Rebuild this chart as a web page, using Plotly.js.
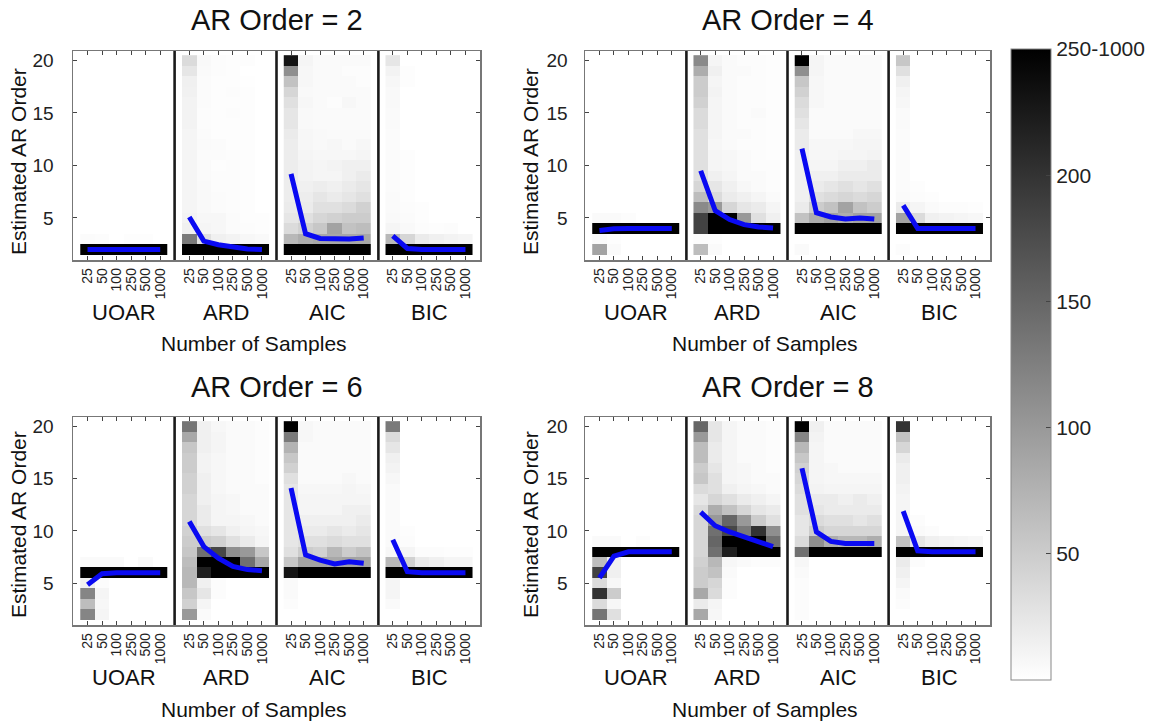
<!DOCTYPE html>
<html>
<head>
<meta charset="utf-8">
<script src="https://cdn.plot.ly/plotly-3.0.1.min.js"></script>
<style>html,body{margin:0;padding:0;background:#fff}#chart{width:1163px;height:724px}</style>
</head>
<body>
<div id="chart"></div>
<script>
// ---------------- DATA ----------------
const sampleSizes = ['25','50','100','250','500','1000'];
const methods = ['UOAR','ARD','AIC','BIC'];
const orders = [1,2,3,4,5,6,7,8,9,10,11,12,13,14,15,16,17,18,19,20];
const panelTitles = ['AR Order = 2','AR Order = 4','AR Order = 6','AR Order = 8'];
const cbTickVals = [50,100,150,200,250];
const cbTickText = ['50','100','150','200','250-1000'];

// counts per estimated order (rows: order 1..20), columns: sample sizes
const ar2_UOAR = [
[0,0,0,0,0,0],[1000,1000,1000,1000,1000,1000],[4,3,0,2,2,0],[0,0,0,0,0,0],[0,0,0,0,0,0],
[0,0,0,0,0,0],[0,0,0,0,0,0],[0,0,0,0,0,0],[0,0,0,0,0,0],[0,0,0,0,0,0],
[0,0,0,0,0,0],[0,0,0,0,0,0],[0,0,0,0,0,0],[0,0,0,0,0,0],[0,0,0,0,0,0],
[0,0,0,0,0,0],[0,0,0,0,0,0],[0,0,0,0,0,0],[0,0,0,0,0,0],[0,0,0,0,0,0]];
const ar2_ARD = [
[0,0,0,0,0,0],[700,900,950,970,980,990],[130,30,15,12,8,6],[15,10,8,4,3,2],[12,8,8,4,2,2],
[10,6,4,3,2,0],[10,6,4,3,2,0],[10,6,3,3,2,0],[10,5,3,3,2,0],[10,5,2,3,2,0],
[10,4,4,3,2,0],[10,5,4,2,2,0],[10,4,2,2,2,0],[12,3,2,2,2,0],[12,3,2,3,2,0],
[12,4,2,2,2,0],[14,4,2,3,2,0],[15,4,2,2,1,0],[25,5,3,2,0,0],[35,6,3,2,2,0]];
const ar2_AIC = [
[0,0,0,0,0,0],[300,550,600,600,600,580],[70,80,85,85,85,85],[35,45,55,90,60,65],[25,30,40,45,50,50],
[20,20,30,30,35,45],[18,18,25,20,25,30],[18,15,18,15,20,25],[18,12,10,10,15,20],[18,12,10,12,15,15],
[18,10,8,8,8,10],[18,8,6,8,5,8],[20,8,6,5,5,5],[25,6,5,5,5,5],[25,6,5,5,5,5],
[30,8,5,3,8,5],[40,6,5,5,5,5],[60,8,5,5,5,3],[110,8,5,5,3,3],[230,10,5,5,5,5]];
const ar2_BIC = [
[0,0,0,0,0,0],[800,940,970,980,985,990],[70,40,20,15,12,10],[10,6,3,2,3,0],[6,4,2,0,0,0],
[5,3,2,0,0,0],[5,2,0,0,0,0],[4,2,0,0,0,0],[4,2,0,0,0,0],[4,2,0,0,0,0],
[4,2,0,0,0,0],[4,0,0,0,0,0],[4,0,0,0,0,0],[5,0,0,0,0,0],[5,0,0,0,0,0],
[6,0,0,0,0,0],[6,0,0,0,0,0],[8,2,0,0,0,0],[12,2,0,0,0,0],[25,0,0,0,0,0]];

const ar4_UOAR = [
[0,0,0,0,0,0],[90,5,0,0,0,0],[5,2,0,0,0,0],[900,990,1000,1000,1000,1000],[5,5,3,0,0,0],
[0,0,0,0,0,0],[0,0,0,0,0,0],[0,0,0,0,0,0],[0,0,0,0,0,0],[0,0,0,0,0,0],
[0,0,0,0,0,0],[0,0,0,0,0,0],[0,0,0,0,0,0],[0,0,0,0,0,0],[0,0,0,0,0,0],
[0,0,0,0,0,0],[0,0,0,0,0,0],[0,0,0,0,0,0],[0,0,0,0,0,0],[0,0,0,0,0,0]];
const ar4_ARD = [
[0,0,0,0,0,0],[65,5,0,0,0,0],[3,2,0,0,0,0],[185,450,600,800,900,950],[185,300,260,100,30,15],
[115,100,40,25,20,10],[65,35,20,15,10,5],[40,25,15,8,5,3],[30,15,10,5,5,3],[30,10,8,5,3,3],
[30,10,8,5,3,2],[30,8,5,3,3,2],[30,10,5,5,3,2],[35,10,5,3,3,2],[35,10,5,3,5,2],
[45,10,5,3,3,2],[50,12,5,3,3,2],[50,10,5,3,3,2],[80,15,5,5,3,2],[115,10,5,3,3,2]];
const ar4_AIC = [
[0,0,0,0,0,0],[5,0,0,0,0,0],[0,0,0,0,0,0],[400,600,650,650,650,650],[60,80,90,80,90,90],
[20,50,60,90,60,50],[15,30,35,40,35,40],[15,20,25,30,25,30],[15,15,15,20,20,20],[15,10,10,15,15,20],
[15,8,8,10,10,12],[20,8,8,8,10,10],[20,5,5,5,8,8],[25,5,5,5,5,5],[30,5,5,5,5,5],
[35,8,5,5,5,5],[45,8,5,5,5,5],[55,8,5,5,5,5],[110,10,5,5,5,5],[250,10,5,5,5,5]];
const ar4_BIC = [
[0,0,0,0,0,0],[3,0,0,0,0,0],[0,0,0,0,0,0],[800,950,980,980,985,990],[90,35,15,12,10,8],
[20,10,5,3,3,2],[5,3,2,0,0,0],[4,2,0,0,0,0],[4,0,0,0,0,0],[4,0,0,0,0,0],
[4,0,0,0,0,0],[4,0,0,0,0,0],[4,0,0,0,0,0],[5,0,0,0,0,0],[5,0,0,0,0,0],
[8,0,0,0,0,0],[10,0,0,0,0,0],[15,0,0,0,0,0],[30,0,0,0,0,0],[55,0,0,0,0,0]];

const ar6_UOAR = [
[0,0,0,0,0,0],[120,10,0,0,0,0],[65,8,0,0,0,0],[120,10,0,0,0,0],[15,3,0,0,0,0],
[700,960,1000,1000,1000,1000],[5,5,5,0,5,0],[0,0,0,0,0,0],[0,0,0,0,0,0],[0,0,0,0,0,0],
[0,0,0,0,0,0],[0,0,0,0,0,0],[0,0,0,0,0,0],[0,0,0,0,0,0],[0,0,0,0,0,0],
[0,0,0,0,0,0],[0,0,0,0,0,0],[0,0,0,0,0,0],[0,0,0,0,0,0],[0,0,0,0,0,0]];
const ar6_ARD = [
[0,0,0,0,0,0],[100,5,0,0,0,0],[45,10,0,0,0,0],[55,25,3,0,0,0],[70,15,3,0,0,0],
[70,220,300,450,650,800],[65,300,400,300,140,85],[55,140,180,110,100,55],[50,50,45,30,20,10],[45,30,25,15,10,8],
[40,20,10,10,8,5],[40,20,10,8,5,5],[40,15,10,8,5,5],[45,15,8,5,5,5],[45,15,8,5,5,3],
[50,12,8,5,5,3],[50,12,8,5,5,3],[55,15,10,5,5,3],[85,15,10,5,5,3],[135,15,8,5,5,3]];
const ar6_AIC = [
[0,0,0,0,0,0],[0,0,0,0,0,0],[3,0,0,0,0,0],[5,0,0,0,0,0],[5,0,0,0,0,0],
[230,600,650,650,650,650],[55,90,90,85,90,90],[30,50,45,70,50,60],[25,30,30,35,30,30],[25,20,20,25,20,25],
[25,15,15,15,15,20],[25,10,10,10,15,15],[25,10,10,10,10,10],[25,8,8,8,10,8],[30,5,5,5,8,5],
[45,5,5,5,5,5],[55,5,5,5,5,5],[75,5,5,5,5,5],[130,8,5,5,5,5],[250,8,5,5,5,5]];
const ar6_BIC = [
[0,0,0,0,0,0],[0,0,0,0,0,0],[5,0,0,0,0,0],[10,0,0,0,0,0],[10,0,0,0,0,0],
[500,900,970,975,980,985],[70,45,20,15,10,10],[8,10,3,3,2,2],[5,3,0,0,0,0],[5,2,0,0,0,0],
[5,0,0,0,0,0],[5,0,0,0,0,0],[5,0,0,0,0,0],[5,0,0,0,0,0],[8,0,0,0,0,0],
[12,0,0,0,0,0],[15,0,0,0,0,0],[25,0,0,0,0,0],[35,0,0,0,0,0],[130,0,0,0,0,0]];

const ar8_UOAR = [
[0,0,0,0,0,0],[135,30,0,0,0,0],[35,8,0,0,0,0],[200,50,0,0,0,0],[35,8,0,0,0,0],
[185,15,0,0,0,0],[65,15,0,0,0,0],[300,850,1000,1000,1000,1000],[5,5,0,3,0,0],[0,0,0,0,0,0],
[0,0,0,0,0,0],[0,0,0,0,0,0],[0,0,0,0,0,0],[0,0,0,0,0,0],[0,0,0,0,0,0],
[0,0,0,0,0,0],[0,0,0,0,0,0],[0,0,0,0,0,0],[0,0,0,0,0,0],[0,0,0,0,0,0]];
const ar8_ARD = [
[0,0,0,0,0,0],[85,8,0,0,0,0],[20,10,0,0,0,0],[85,35,3,0,0,0],[50,40,3,0,0,0],
[50,60,5,0,0,0],[45,70,8,5,3,3],[40,140,220,400,500,600],[40,150,300,300,260,140],[40,140,180,130,200,110],
[40,100,150,100,50,30],[35,80,60,40,25,20],[25,40,30,20,15,10],[35,30,15,10,8,5],[55,30,10,8,5,5],
[50,25,10,8,5,3],[65,20,10,5,5,3],[65,20,10,5,5,3],[100,25,10,5,5,3],[150,25,10,5,5,3]];
const ar8_AIC = [
[0,0,0,0,0,0],[3,0,0,0,0,0],[3,0,0,0,0,0],[3,0,0,0,0,0],[3,0,0,0,0,0],
[5,0,0,0,0,0],[8,0,0,0,0,0],[140,500,700,700,700,700],[35,110,80,70,70,80],[25,50,40,40,40,40],
[25,35,30,30,25,30],[30,25,20,20,20,20],[30,20,20,15,20,15],[35,12,10,10,10,10],[40,10,8,8,8,8],
[45,10,8,5,5,5],[55,10,5,5,5,5],[70,10,5,5,5,5],[120,12,5,5,5,5],[250,15,5,5,5,5]];
const ar8_BIC = [
[0,0,0,0,0,0],[0,0,0,0,0,0],[3,0,0,0,0,0],[5,0,0,0,0,0],[10,0,0,0,0,0],
[15,0,0,0,0,0],[20,3,0,0,0,0],[500,950,975,980,985,990],[60,25,15,12,10,8],[10,5,3,0,0,0],
[10,3,0,0,0,0],[10,0,0,0,0,0],[10,0,0,0,0,0],[12,0,0,0,0,0],[15,0,0,0,0,0],
[15,0,0,0,0,0],[20,0,0,0,0,0],[40,0,0,0,0,0],[60,0,0,0,0,0],[200,0,0,0,0,0]];

// mean estimated order (blue line)
const ar2_mean_UOAR = [2.0,2.0,2.0,2.0,2.0,2.0];
const ar2_mean_ARD  = [5.1,2.8,2.45,2.2,2.05,2.0];
const ar2_mean_AIC  = [9.2,3.5,3.05,3.0,3.0,3.1];
const ar2_mean_BIC  = [3.3,2.1,2.0,2.0,2.0,2.0];
const ar4_mean_UOAR = [3.8,3.97,4.0,4.0,4.0,4.0];
const ar4_mean_ARD  = [9.5,5.7,4.85,4.37,4.15,4.05];
const ar4_mean_AIC  = [11.6,5.5,5.1,4.9,5.0,4.9];
const ar4_mean_BIC  = [6.2,4.0,4.0,4.0,4.0,4.0];
const ar6_mean_UOAR = [4.85,5.9,6.0,6.0,6.0,6.0];
const ar6_mean_ARD  = [10.9,8.5,7.4,6.6,6.3,6.2];
const ar6_mean_AIC  = [14.1,7.7,7.2,6.85,7.05,6.9];
const ar6_mean_BIC  = [9.15,6.1,6.0,6.0,6.0,6.0];
const ar8_mean_UOAR = [5.5,7.6,8.0,8.0,8.0,8.0];
const ar8_mean_ARD  = [11.8,10.5,9.9,9.45,8.95,8.5];
const ar8_mean_AIC  = [16.0,9.9,9.0,8.8,8.8,8.8];
const ar8_mean_BIC  = [11.9,8.1,8.0,8.0,8.0,8.0];

// ---------------- LAYOUT ----------------
const W = 1163, H = 724;
const fx = p => p / W, fy = p => 1 - p / H;
const FONT = 'Arial, "Liberation Sans", sans-serif';

const panelMatrices = [
  [ar2_UOAR, ar2_ARD, ar2_AIC, ar2_BIC],
  [ar4_UOAR, ar4_ARD, ar4_AIC, ar4_BIC],
  [ar6_UOAR, ar6_ARD, ar6_AIC, ar6_BIC],
  [ar8_UOAR, ar8_ARD, ar8_AIC, ar8_BIC]];
const panelMeans = [
  [ar2_mean_UOAR, ar2_mean_ARD, ar2_mean_AIC, ar2_mean_BIC],
  [ar4_mean_UOAR, ar4_mean_ARD, ar4_mean_AIC, ar4_mean_BIC],
  [ar6_mean_UOAR, ar6_mean_ARD, ar6_mean_AIC, ar6_mean_BIC],
  [ar8_mean_UOAR, ar8_mean_ARD, ar8_mean_AIC, ar8_mean_BIC]];

// pixel geometry of the four panels
const geo = [
  {l: 73,  r: 480, t: 51,  b: 260, titleY: 20,  ylabX: 18,  ylabY: 162, methY: 312, nsX: 254, nsY: 343, tstand: 14},
  {l: 585, r: 990, t: 51,  b: 260, titleY: 20,  ylabX: 530, ylabY: 162, methY: 312, nsX: 765, nsY: 343, tstand: 12},
  {l: 73,  r: 480, t: 417, b: 625, titleY: 387, ylabX: 18,  ylabY: 525, methY: 677, nsX: 254, nsY: 709, tstand: 14},
  {l: 585, r: 990, t: 417, b: 625, titleY: 387, ylabX: 530, ylabY: 525, methY: 677, nsX: 765, nsY: 709, tstand: 12}];

const traces = [];
const layout = {
  width: W, height: H,
  margin: {l: 0, r: 0, t: 0, b: 0, pad: 0},
  paper_bgcolor: '#ffffff', plot_bgcolor: '#ffffff',
  font: {family: FONT, color: '#111'},
  showlegend: false,
  coloraxis: {
    cmin: 0, cmax: 250,
    colorscale: [[0, '#ffffff'], [1, '#000000']],
    colorbar: {
      x: fx(1010.5), xanchor: 'left', xpad: 0,
      y: fy(49), yanchor: 'top', ypad: 0,
      len: 631, lenmode: 'pixels',
      thickness: 40, thicknessmode: 'pixels',
      outlinewidth: 1, outlinecolor: '#888',
      tickvals: cbTickVals, ticktext: cbTickText,
      ticks: 'inside', ticklen: 5, tickcolor: '#444',
      tickfont: {family: FONT, size: 21, color: '#222'}
    }
  },
  annotations: [], shapes: []
};

for (let p = 0; p < 4; p++) {
  const g = geo[p];
  const sw = (g.r - g.l) / 4;
  for (let m = 0; m < 4; m++) {
    const idx = p * 4 + m + 1;
    const id = idx === 1 ? '' : String(idx);
    const x0 = g.l + m * sw, x1 = g.l + (m + 1) * sw;
    layout['xaxis' + id] = {
      domain: [fx(x0), fx(x1)], anchor: 'y' + id,
      type: 'category', range: [-1, 6],
      tickmode: 'array', tickvals: sampleSizes, ticktext: sampleSizes,
      tickangle: -90, ticks: 'inside', ticklen: 4, tickcolor: '#444', tickwidth: 1,
      ticklabelstandoff: 1,
      showline: true, mirror: 'ticks', linecolor: '#777', linewidth: 1.5,
      showgrid: false, zeroline: false, fixedrange: true,
      tickfont: {family: FONT, size: 14, color: '#222'}
    };
    layout['yaxis' + id] = {
      domain: [fy(g.b), fy(g.t)], anchor: 'x' + id,
      range: [1, 20.9], tickvals: [5, 10, 15, 20],
      side: m === 3 ? 'right' : 'left',
      ticks: (m === 0 || m === 3) ? 'inside' : '', ticklen: 4, tickcolor: '#444',
      showticklabels: m === 0, ticklabelstandoff: g.tstand,
      showline: true, mirror: true, linecolor: '#777', linewidth: 1.5,
      showgrid: false, zeroline: false, fixedrange: true,
      tickfont: {family: FONT, size: 19, color: '#222'}
    };
    traces.push({
      type: 'heatmap', x: sampleSizes, y: orders, z: panelMatrices[p][m],
      coloraxis: 'coloraxis', zsmooth: false,
      xaxis: 'x' + id, yaxis: 'y' + id, hoverinfo: 'skip'
    });
    traces.push({
      type: 'scatter', mode: 'lines', x: sampleSizes, y: panelMeans[p][m],
      line: {color: '#0a0af2', width: 5}, xaxis: 'x' + id, yaxis: 'y' + id,
      hoverinfo: 'skip'
    });
    if (m > 0) {
      layout.shapes.push({
        type: 'line', xref: 'x' + id + ' domain', yref: 'y' + id + ' domain',
        x0: 0, x1: 0, y0: 0, y1: 1, line: {color: '#1a1a1a', width: 2}, layer: 'above'
      });
    }
    layout.annotations.push({
      text: methods[m], xref: 'paper', yref: 'paper',
      x: fx((x0 + x1) / 2), y: fy(g.methY), xanchor: 'center', yanchor: 'middle',
      showarrow: false, font: {family: FONT, size: 22, color: '#111'}
    });
  }
  layout.annotations.push({
    text: panelTitles[p], xref: 'paper', yref: 'paper',
    x: fx((g.l + g.r) / 2), y: fy(g.titleY), xanchor: 'center', yanchor: 'middle',
    showarrow: false, font: {family: FONT, size: 29, color: '#111'}
  });
  layout.annotations.push({
    text: 'Estimated AR Order', xref: 'paper', yref: 'paper', textangle: -90,
    x: fx(g.ylabX), y: fy(g.ylabY), xanchor: 'center', yanchor: 'middle',
    showarrow: false, font: {family: FONT, size: 21, color: '#111'}
  });
  layout.annotations.push({
    text: 'Number of Samples', xref: 'paper', yref: 'paper',
    x: fx(g.nsX), y: fy(g.nsY), xanchor: 'center', yanchor: 'middle',
    showarrow: false, font: {family: FONT, size: 21, color: '#111'}
  });
}

Plotly.newPlot('chart', traces, layout, {displayModeBar: false, staticPlot: true});
</script>
</body>
</html>
